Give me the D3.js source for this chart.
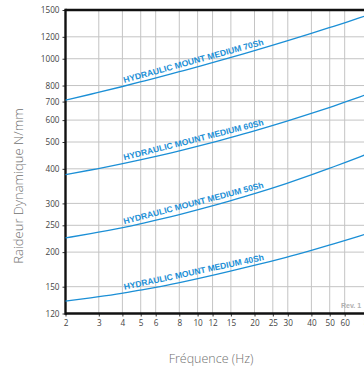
<!DOCTYPE html>
<html>
<head>
<meta charset="utf-8">
<script src="https://cdn.jsdelivr.net/npm/d3@7"></script>
<style>
  html, body { margin: 0; padding: 0; background: #fff; }
  svg { display: block; }
</style>
</head>
<body>
<svg id="chart" width="364" height="371"></svg>
<script>
// ---- Data ----
const frequencies = [2, 3, 4, 5, 6, 8, 10, 15, 20, 30, 40, 50, 60, 80, 100];
const seriesNames = ["HYDRAULIC MOUNT MEDIUM 70Sh", "HYDRAULIC MOUNT MEDIUM 60Sh", "HYDRAULIC MOUNT MEDIUM 50Sh", "HYDRAULIC MOUNT MEDIUM 40Sh"];
const stiffness70 = [708, 756, 793, 825, 852, 897, 935, 1011, 1070, 1163, 1236, 1296, 1349, 1439, 1514];
const stiffness60 = [381, 401, 417, 431, 443, 464, 482, 519, 548, 596, 634, 667, 696, 746, 789];
const stiffness50 = [225, 236, 245, 253, 261, 273, 284, 307, 325, 355, 380, 402, 421, 454, 482];
const stiffness40 = [133, 138, 142, 146, 149, 155, 160, 171, 179, 192, 203, 212, 220, 234, 246];
const xTickValues = [2, 3, 4, 5, 6, 8, 10, 12, 15, 20, 25, 30, 40, 50, 60, 80, 100];
const yTickValues = [120, 150, 200, 250, 300, 400, 500, 600, 700, 800, 1000, 1200, 1500];
const xTitle = "Fréquence (Hz)";
const yTitle = "Raideur Dynamique N/mm";
const revisionNote = "Rev. 1";
const labelFreqStart = 4.13, labelFreqEnd = 22.7;

const allSeries = [stiffness70, stiffness60, stiffness50, stiffness40];

const svg = d3.select("#chart");
const plotLeft = 65.5, plotTop = 10, plotBottom = 313.5;
const decade = 189;

const x = d3.scaleLog().domain([2, 100]).range([plotLeft, plotLeft + decade * Math.log10(50)]);
const y = d3.scaleLog().domain([120, 1500]).range([plotBottom, plotTop]);

const blue = "#1b8fd6";
const gridColor = "#c4c4c4";
const tickFont = "'Open Sans', 'DejaVu Sans', sans-serif";

// grid
const grid = svg.append("g");
grid.selectAll("line.v").data(xTickValues).join("line")
  .attr("class", "v")
  .attr("x1", d => x(d)).attr("x2", d => x(d))
  .attr("y1", plotTop).attr("y2", plotBottom)
  .attr("stroke", gridColor).attr("stroke-width", 1);
grid.selectAll("line.h").data(yTickValues).join("line")
  .attr("class", "h")
  .attr("x1", plotLeft).attr("x2", 404)
  .attr("y1", d => y(d)).attr("y2", d => y(d))
  .attr("stroke", gridColor).attr("stroke-width", 1);

// axes
const yAxis = d3.axisLeft(y).tickValues(yTickValues).tickSize(3).tickSizeOuter(0)
  .tickPadding(3).tickFormat(d3.format("d"));
const gy = svg.append("g").attr("transform", `translate(${plotLeft},0)`).call(yAxis);
gy.select(".domain").remove();
gy.selectAll(".tick line").attr("stroke", "#333");
gy.selectAll(".tick text").attr("font-family", tickFont).attr("font-size", 8.2).attr("fill", "#444");

const xAxis = d3.axisBottom(x).tickValues(xTickValues).tickSize(3).tickSizeOuter(0)
  .tickPadding(4).tickFormat(d3.format("d"));
const gx = svg.append("g").attr("transform", `translate(0,${plotBottom})`).call(xAxis);
gx.select(".domain").remove();
gx.selectAll(".tick line").attr("stroke", "#333");
gx.selectAll(".tick text").attr("font-family", tickFont).attr("font-size", 8.2).attr("fill", "#444");

// frame
svg.append("line").attr("x1", plotLeft).attr("x2", 404).attr("y1", plotTop).attr("y2", plotTop)
  .attr("stroke", "#111").attr("stroke-width", 2.4);
svg.append("line").attr("x1", plotLeft).attr("x2", 404).attr("y1", plotBottom).attr("y2", plotBottom)
  .attr("stroke", "#111").attr("stroke-width", 2.4);
svg.append("line").attr("x1", plotLeft).attr("x2", plotLeft).attr("y1", plotTop - 1.2).attr("y2", plotBottom + 1.2)
  .attr("stroke", "#111").attr("stroke-width", 2.4);

// curves
const line = d3.line()
  .x((d, i) => x(frequencies[i]))
  .y(d => y(d))
  .curve(d3.curveBasis);

svg.append("g").selectAll("path").data(allSeries).join("path")
  .attr("d", d => line(d))
  .attr("fill", "none")
  .attr("stroke", blue)
  .attr("stroke-width", 1.3);

// value at frequency by log-log interpolation
function valueAt(values, f) {
  const lf = Math.log10(f);
  for (let i = 0; i < frequencies.length - 1; i++) {
    const a = Math.log10(frequencies[i]), b = Math.log10(frequencies[i + 1]);
    if (lf >= a && lf <= b) {
      const t = (lf - a) / (b - a);
      return Math.pow(10, Math.log10(values[i]) * (1 - t) + Math.log10(values[i + 1]) * t);
    }
  }
  return values[values.length - 1];
}

// labels
const labels = svg.append("g");
allSeries.forEach((vals, k) => {
  const x1 = x(labelFreqStart), y1 = y(valueAt(vals, labelFreqStart));
  const x2 = x(labelFreqEnd), y2 = y(valueAt(vals, labelFreqEnd));
  const ang = Math.atan2(y2 - y1, x2 - x1);
  const len = Math.hypot(x2 - x1, y2 - y1);
  const off = 3;
  const px = x1 + off * Math.sin(ang), py = y1 - off * Math.cos(ang);
  labels.append("text")
    .attr("transform", `translate(${px},${py}) rotate(${ang * 180 / Math.PI})`)
    .attr("font-family", "'Liberation Sans', Arial, sans-serif")
    .attr("font-weight", "bold")
    .attr("font-size", 8.5)
    .attr("fill", blue)
    .attr("textLength", len)
    .attr("lengthAdjust", "spacingAndGlyphs")
    .text(seriesNames[k]);
});

// titles
svg.append("text")
  .attr("x", 211).attr("y", 363)
  .attr("text-anchor", "middle")
  .attr("font-family", tickFont)
  .attr("font-weight", 300)
  .attr("font-size", 12.5)
  .attr("fill", "#707070")
  .text(xTitle);

svg.append("text")
  .attr("transform", "translate(23,186) rotate(-90)")
  .attr("text-anchor", "middle")
  .attr("font-family", tickFont)
  .attr("font-weight", 300)
  .attr("font-size", 13)
  .attr("fill", "#707070")
  .text(yTitle);

svg.append("text")
  .attr("x", 341).attr("y", 308)
  .attr("font-family", "'Liberation Sans', Arial, sans-serif")
  .attr("font-weight", "bold")
  .attr("font-size", 7)
  .attr("fill", "#b0b0b0")
  .text(revisionNote);
</script>
</body>
</html>
